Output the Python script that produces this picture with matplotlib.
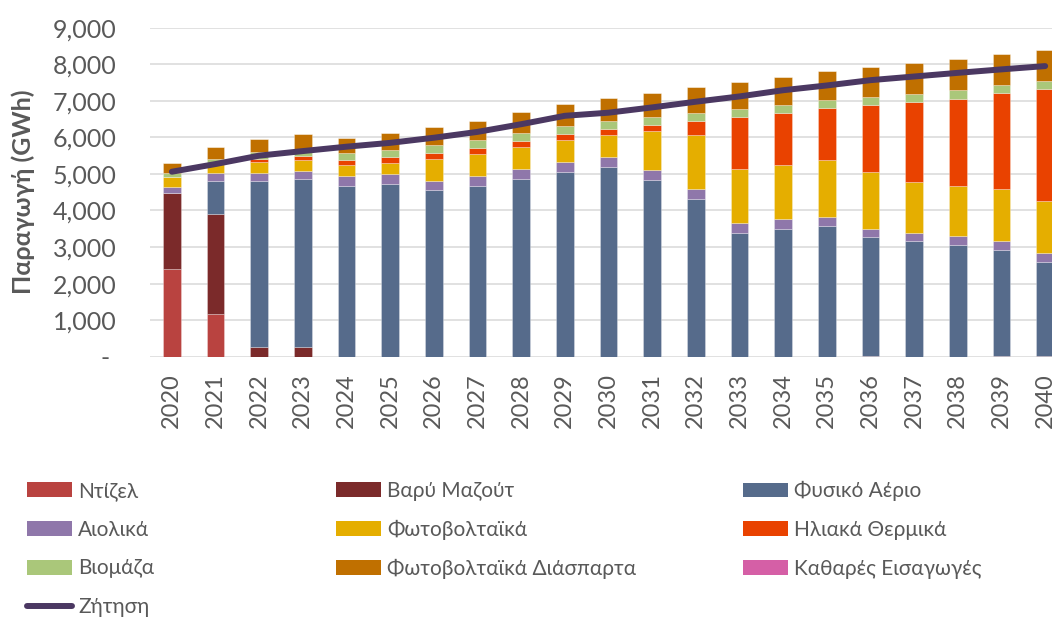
import numpy as np
import matplotlib
matplotlib.use("Agg")
import matplotlib.pyplot as plt
from matplotlib.ticker import FuncFormatter
from matplotlib.patches import Patch
from matplotlib.lines import Line2D

plt.rcParams['font.family'] = ['Lato', 'Open Sans', 'DejaVu Sans']

# data (GWh)
years = [str(y) for y in range(2020, 2041)]

diesel = [2390, 1170, 0, 0, 0, 0, 0, 0, 0, 0, 0, 0, 0, 0, 0, 0, 30, 0, 0, 30, 30]
heavy_fuel = [2080, 2720, 270, 270, 0, 0, 0, 0, 0, 0, 0, 0, 0, 0, 0, 0, 0, 0, 0, 0, 0]
natural_gas = [0, 930, 4525, 4580, 4676, 4731, 4549, 4676, 4868, 5059, 5196,
               4840, 4321, 3391, 3500, 3573, 3252, 3163, 3063, 2896, 2568]
wind = [182, 192, 230, 240, 274, 274, 255, 274, 264, 274, 274,
        274, 273, 264, 265, 256, 218, 228, 237, 246, 228]
pv = [274, 273, 290, 280, 282, 291, 602, 592, 611, 592, 592,
      1057, 1477, 1477, 1486, 1549, 1550, 1395, 1367, 1413, 1431]
solar_thermal = [0, 0, 90, 120, 146, 155, 164, 174, 155, 164, 164,
                 165, 383, 1431, 1422, 1413, 1832, 2178, 2389, 2626, 3063]
biomass = [91, 110, 200, 200, 183, 201, 209, 209, 219, 219, 219,
           218, 219, 219, 219, 219, 219, 219, 228, 218, 228]
pv_distributed = [291, 337, 360, 400, 428, 465, 502, 529, 565, 602, 620,
                  657, 702, 729, 756, 793, 821, 857, 856, 839, 829]
net_imports = [0] * 21
demand = [5060, 5270, 5500, 5625, 5745, 5850, 5990, 6150, 6360, 6590, 6675,
          6820, 6975, 7120, 7290, 7420, 7565, 7665, 7765, 7860, 7950]

series = [
    ("Ντίζελ", diesel, "#B94340"),
    ("Βαρύ Μαζούτ", heavy_fuel, "#7B2A2A"),
    ("Φυσικό Αέριο", natural_gas, "#566B8B"),
    ("Αιολικά", wind, "#8F77AA"),
    ("Φωτοβολταϊκά", pv, "#E5AE00"),
    ("Ηλιακά Θερμικά", solar_thermal, "#E94200"),
    ("Βιομάζα", biomass, "#AAC77A"),
    ("Φωτοβολταϊκά Διάσπαρτα", pv_distributed, "#C07000"),
    ("Καθαρές Εισαγωγές", net_imports, "#D55FA6"),
]
demand_label = "Ζήτηση"
demand_color = "#4B3862"

fig = plt.figure(figsize=(10.52, 6.17), dpi=100)
W, H = 1052, 617
ax_left, ax_right = 150, 1067
ax_top, ax_bottom = 27.7, 356.7
ax = fig.add_axes([ax_left / W, 1 - ax_bottom / H,
                   (ax_right - ax_left) / W, (ax_bottom - ax_top) / H])

x = np.arange(len(years))
bottom = np.zeros(len(years))
handles = {}
for name, vals, col in series:
    vals = np.array(vals, dtype=float)
    ax.bar(x, vals, 0.4, bottom=bottom, color=col, edgecolor=(1, 1, 1, 0.5),
           linewidth=0.4, zorder=2)
    bottom += vals
    handles[name] = Patch(facecolor=col, edgecolor='none')

ax.plot(x, demand, color=demand_color, linewidth=4.3, solid_capstyle='round', zorder=3)
handles[demand_label] = Line2D([0], [0], color=demand_color, linewidth=4.3,
                               solid_capstyle='round')

ax.set_xlim(-0.5, len(years) - 0.5)
ax.set_ylim(0, 9000)
ax.set_yticks(np.arange(0, 9001, 1000))
ax.yaxis.set_major_formatter(FuncFormatter(lambda v, p: "- " if v == 0 else f"{int(v):,}"))
ax.set_xticks(x)
ax.set_xticklabels(years, rotation=90)
ax.tick_params(axis='y', length=0, labelsize=18, labelcolor="#595959", pad=24)
ax.tick_params(axis='x', length=0, labelsize=17, labelcolor="#595959", pad=12)
ax.grid(axis='y', color="#D9D9D9", linewidth=1.1, zorder=0)
ax.set_axisbelow(True)
for s in ax.spines.values():
    s.set_visible(False)

ax.set_ylabel("Παραγωγή (GWh)", fontsize=18, fontweight='bold', color="#595959")
ax.yaxis.set_label_coords((35 - ax_left) / (ax_right - ax_left), 0.5)

# legend laid out in three columns, row-major like the original
names = [s[0] for s in series] + [demand_label]
columns = [names[0::3], names[1::3], names[2::3]]
col_x = [27, 336, 743]
for cx, col_names in zip(col_x, columns):
    fig.legend([handles[n] for n in col_names], col_names,
               loc='upper left', bbox_to_anchor=(cx / W, 1 - 481 / H),
               frameon=False, fontsize=15, labelcolor="#595959",
               handlelength=2.15, handleheight=0.7, handletextpad=0.3,
               labelspacing=0.9, borderaxespad=0, borderpad=0)

fig.savefig("out.png", dpi=100)
